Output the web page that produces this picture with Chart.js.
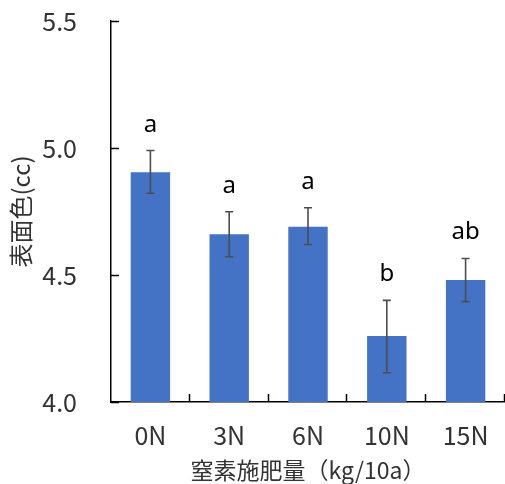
<!DOCTYPE html>
<html>
<head>
<meta charset="utf-8">
<script src="https://cdn.jsdelivr.net/npm/chart.js@4"></script>
<style>
  html, body { margin: 0; padding: 0; background: #fff; }
  #wrap { width: 505px; height: 484px; }
</style>
</head>
<body>
<div id="wrap"><canvas id="chart" width="505" height="484"></canvas></div>
<script>
// 窒素施肥量ごとの表面色 (平均 ± 誤差)
var categories = ["0N", "3N", "6N", "10N", "15N"];
var means = [4.905, 4.66, 4.69, 4.26, 4.48];
var errLow = [4.822, 4.572, 4.62, 4.115, 4.395];
var errHigh = [4.99, 4.749, 4.765, 4.40, 4.565];
var letters = ["a", "a", "a", "b", "ab"];
var yMin = 4.0, yMax = 5.5, yStep = 0.5;

var tickFont = "'Noto Sans CJK JP', sans-serif";
var cjkFont = "'Noto Sans CJK JP', sans-serif";

// 誤差棒・有意差記号・内向きの目盛り
var extras = {
  id: "extras",
  afterDatasetsDraw: function (chart) {
    var ctx = chart.ctx;
    var x = chart.scales.x, y = chart.scales.y;
    var meta = chart.getDatasetMeta(0);
    ctx.save();
    ctx.strokeStyle = "#4d4d4d";
    ctx.lineWidth = 1.6;
    meta.data.forEach(function (bar, i) {
      var cx = bar.x;
      var top = y.getPixelForValue(errHigh[i]);
      var bot = y.getPixelForValue(errLow[i]);
      ctx.beginPath();
      ctx.moveTo(cx, top); ctx.lineTo(cx, bot);
      ctx.moveTo(cx - 4, top); ctx.lineTo(cx + 4, top);
      ctx.moveTo(cx - 4, bot); ctx.lineTo(cx + 4, bot);
      ctx.stroke();

      ctx.fillStyle = "#000";
      ctx.font = "24px 'Noto Sans', sans-serif";
      ctx.textAlign = "center";
      ctx.textBaseline = "alphabetic";
      ctx.fillText(letters[i], cx, top - 19);
    });

    // 目盛り (内向き)
    ctx.strokeStyle = "#000";
    ctx.lineWidth = 1.5;
    ctx.beginPath();
    y.ticks.forEach(function (t) {
      var py = Math.round(y.getPixelForValue(t.value)) + 0.5;
      ctx.moveTo(y.right, py); ctx.lineTo(y.right + 8, py);
    });
    for (var k = 1; k <= categories.length; k++) {
      var px = Math.round(x.left + (x.right - x.left) * k / categories.length) - 0.5;
      ctx.moveTo(px, x.top); ctx.lineTo(px, x.top - 8);
    }
    ctx.stroke();
    ctx.restore();
  }
};

new Chart(document.getElementById("chart"), {
  type: "bar",
  data: {
    labels: categories,
    datasets: [{
      data: means,
      backgroundColor: "#4472c4",
      borderWidth: 0,
      barPercentage: 0.5,
      categoryPercentage: 1.0
    }]
  },
  options: {
    responsive: false,
    animation: false,
    layout: { padding: { top: 21, right: 0, left: 0, bottom: 0 } },
    plugins: { legend: { display: false }, tooltip: { enabled: false } },
    scales: {
      x: {
        grid: { display: false, drawTicks: false },
        border: { color: "#000", width: 1.5 },
        ticks: { color: "#333", font: { family: tickFont, size: 25 }, padding: 18 },
        title: {
          display: true,
          text: "窒素施肥量（kg/10a）",
          color: "#333",
          font: { family: cjkFont, size: 23 },
          padding: { top: 0, bottom: 0 }
        },
        afterFit: function (s) { s.height = 82; s.paddingLeft = 0; s.paddingRight = 0; }
      },
      y: {
        min: yMin,
        max: yMax,
        grid: { display: false, drawTicks: false },
        border: { color: "#000", width: 1.5 },
        ticks: {
          stepSize: yStep,
          color: "#333",
          font: { family: tickFont, size: 25 },
          padding: 34,
          callback: function (v) { return v.toFixed(1); }
        },
        title: {
          display: true,
          text: "表面色(cc)",
          color: "#333",
          font: { family: cjkFont, size: 24 },
          padding: { top: 6, bottom: 0 }
        },
        afterFit: function (s) { s.width = 111; s.paddingTop = 0; s.paddingBottom = 0; }
      }
    }
  },
  plugins: [extras]
});
</script>
</body>
</html>
